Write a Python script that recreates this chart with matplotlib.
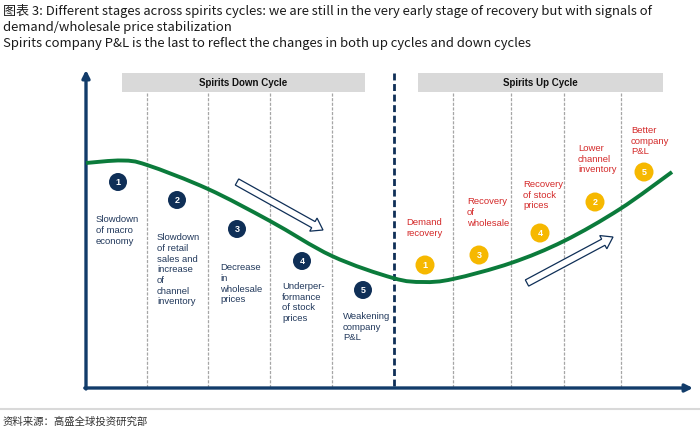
import matplotlib
matplotlib.use("Agg")
import matplotlib.pyplot as plt
from matplotlib.path import Path
from matplotlib.patches import PathPatch, FancyArrow, Circle, Rectangle
import numpy as np

# ---------------- data ----------------
title_lines = [
    "图表 3: Different stages across spirits cycles: we are still in the very early stage of recovery but with signals of",
    "demand/wholesale price stabilization",
    "Spirits company P&L is the last to reflect the changes in both up cycles and down cycles",
]
source_text = "资料来源：高盛全球投资研究部"
phase_names = ["Spirits Down Cycle", "Spirits Up Cycle"]

down_labels = ["Slowdown\nof macro\neconomy",
               "Slowdown\nof retail\nsales and\nincrease\nof\nchannel\ninventory",
               "Decrease\nin\nwholesale\nprices",
               "Underper-\nformance\nof stock\nprices",
               "Weakening\ncompany\nP&L"]
down_numbers = [1, 2, 3, 4, 5]

up_labels = ["Demand\nrecovery", "Recovery\nof\nwholesale", "Recovery\nof stock\nprices",
             "Lower\nchannel\ninventory", "Better\ncompany\nP&L"]
up_numbers = [1, 3, 4, 2, 5]

# cycle curve (pixel space)
curve_x = [86, 122, 147, 208, 270, 332, 393, 423, 453, 511, 564, 620, 672]
curve_y = [163, 160.5, 165, 189, 221, 256, 278, 282, 279, 263, 241, 209, 172]

# ---------------- layout ----------------
navy = "#0f2f57"
axis_col = "#123c6a"
green = "#0b7b3b"
yellow = "#f6b800"
red = "#d42a2a"
txt_col = "#22395c"

down_dividers = [147, 208, 270, 332]
up_dividers = [453, 511, 564, 621]
mid_x = 394
axis_x0, axis_y0 = 86, 388
axis_top, axis_right = 70, 693

down_marker_xy = [(118, 182), (177, 200), (237, 229), (302, 261), (363, 290)]
down_text_xy = [(96, 215), (157, 233), (220, 263), (282, 282), (343, 312)]
up_marker_xy = [(425, 265), (479, 255), (540, 233), (595, 202), (644, 172)]
up_text_xy = [(406, 218), (467, 197), (523, 180), (578, 144), (631, 126)]

fig = plt.figure(figsize=(7, 4.33), dpi=100)
ax = fig.add_axes([0, 0, 1, 1])
ax.set_xlim(0, 700)
ax.set_ylim(433, 0)
ax.axis("off")

# title
for i, line in enumerate(title_lines):
    ax.text(3, 11 + 16 * i, line, fontsize=9.4, family=["Noto Sans CJK SC", "DejaVu Sans"],
            color="#1a1a1a", va="center", ha="left")

# phase header boxes
for name, (x0, x1) in zip(phase_names, [(122, 365), (418, 663)]):
    ax.add_patch(Rectangle((x0, 73), x1 - x0, 19, fc="#d9d9d9", ec="none"))
    ax.text((x0 + x1) / 2, 82.5, name, fontsize=7, fontweight="bold", family="Liberation Sans",
            color="#111111", ha="center", va="center")

# dividers
for x in down_dividers + up_dividers:
    ax.plot([x, x], [93, axis_y0], color="#a6a6a6", lw=0.9, ls=(0, (2.5, 1.2)), zorder=1)
ax.plot([mid_x, mid_x], [73, axis_y0], color=navy, lw=2, ls=(0, (2.5, 1.3)), zorder=1)

# axes arrows
ax.annotate("", xy=(axis_x0, axis_top), xytext=(axis_x0, axis_y0 + 1),
            arrowprops=dict(arrowstyle="-|>", lw=2.4, color=axis_col, mutation_scale=11,
                            shrinkA=0, shrinkB=0))
ax.annotate("", xy=(axis_right, axis_y0), xytext=(axis_x0 - 1.2, axis_y0),
            arrowprops=dict(arrowstyle="-|>", lw=2.4, color=axis_col, mutation_scale=11,
                            shrinkA=0, shrinkB=0))

# smooth curve via Catmull-Rom -> Bezier
P = np.column_stack([curve_x, curve_y]).astype(float)
verts = [P[0]]
codes = [Path.MOVETO]
for i in range(len(P) - 1):
    p0 = P[i - 1] if i > 0 else P[i]
    p1, p2 = P[i], P[i + 1]
    p3 = P[i + 2] if i + 2 < len(P) else P[i + 1]
    c1 = p1 + (p2 - p0) / 6
    c2 = p2 - (p3 - p1) / 6
    verts += [c1, c2, p2]
    codes += [Path.CURVE4] * 3
ax.add_patch(PathPatch(Path(verts, codes), fc="none", ec=green, lw=2.8, capstyle="butt", zorder=3))

# hollow arrows
for (x0, y0), (x1, y1) in [((237, 182), (323, 230)), ((527, 283), (613, 237))]:
    ax.add_patch(FancyArrow(x0, y0, x1 - x0, y1 - y0, width=7, head_width=15, head_length=11,
                            length_includes_head=True, fc="white", ec=navy, lw=0.9, zorder=4))

# down cycle markers and labels
for (cx, cy), n in zip(down_marker_xy, down_numbers):
    ax.add_patch(Circle((cx, cy), 9, fc=navy, ec="none", zorder=5))
    ax.text(cx, cy + 0.3, str(n), color="white", fontsize=6.5, fontweight="bold",
            family="Liberation Sans", ha="center", va="center", zorder=6)
for (tx, ty), lab in zip(down_text_xy, down_labels):
    ax.text(tx, ty, lab, color=txt_col, fontsize=6.8, family="Liberation Sans",
            ha="left", va="top", linespacing=1.25, zorder=6)

# up cycle markers and labels
for (cx, cy), n in zip(up_marker_xy, up_numbers):
    ax.add_patch(Circle((cx, cy), 9.5, fc=yellow, ec="none", zorder=5))
    ax.text(cx, cy + 0.3, str(n), color="white", fontsize=6.5, fontweight="bold",
            family="Liberation Sans", ha="center", va="center", zorder=6)
for (tx, ty), lab in zip(up_text_xy, up_labels):
    ax.text(tx, ty, lab, color=red, fontsize=6.8, family="Liberation Sans",
            ha="left", va="top", linespacing=1.25, zorder=6)

# footer
ax.plot([0, 700], [409, 409], color="#d9d9d9", lw=1.5)
ax.text(3, 422, source_text, fontsize=7.5, family=["Noto Sans CJK SC", "DejaVu Sans"],
        color="#333333", ha="left", va="center")

fig.savefig("out.png", dpi=100)
